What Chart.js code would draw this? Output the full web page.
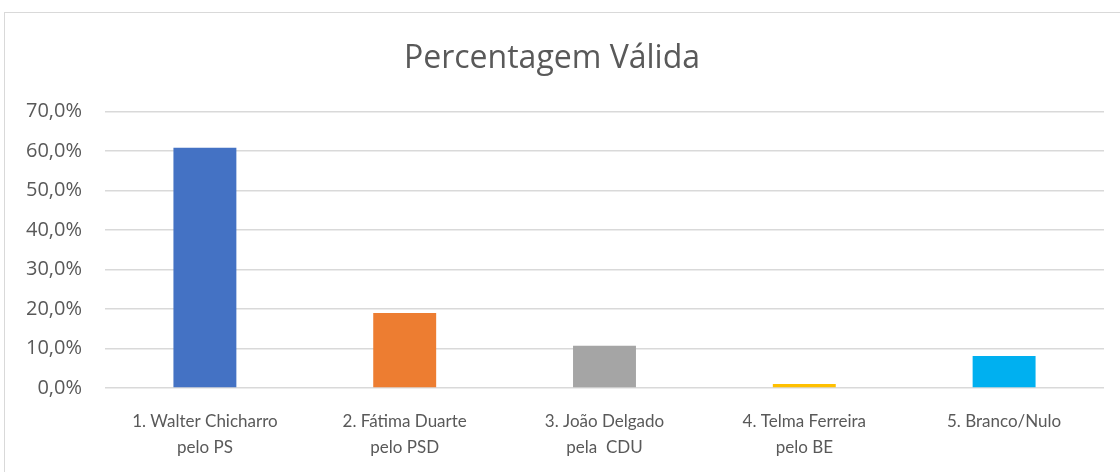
<!DOCTYPE html>
<html>
<head>
<meta charset="utf-8">
<script src="https://cdn.jsdelivr.net/npm/chart.js@4/dist/chart.umd.min.js"></script>
<style>
  html, body { margin: 0; padding: 0; background: #ffffff; overflow: hidden; }
  #frame { position: absolute; left: 4px; top: 12px; width: 1200px; height: 520px; border: 1.5px solid #d9d9d9; box-sizing: border-box; }
  #wrap { position: absolute; left: 0; top: 0; width: 1120px; height: 472px; }
</style>
</head>
<body>
<div id="frame"></div>
<div id="wrap"><canvas id="c" width="1120" height="472"></canvas></div>
<script>
const categories = [
  ["1. Walter Chicharro", "pelo PS"],
  ["2. Fátima Duarte", "pelo PSD"],
  ["3. João Delgado", "pela  CDU"],
  ["4. Telma Ferreira", "pelo BE"],
  ["5. Branco/Nulo"]
];
const values = [60.8, 19.0, 10.7, 1.0, 8.1];
const barColors = ["#4472C4", "#ED7D31", "#A5A5A5", "#FFC000", "#00B0F0"];
const yTicks = [0, 10, 20, 30, 40, 50, 60, 70];
const titleText = "Percentagem Válida";

new Chart(document.getElementById("c"), {
  type: "bar",
  data: {
    labels: categories,
    datasets: [{
      data: values,
      backgroundColor: barColors,
      borderWidth: 0,
      barPercentage: 1,
      categoryPercentage: 0.315
    }]
  },
  options: {
    responsive: false,
    animation: false,
    devicePixelRatio: 1,
    layout: { padding: { left: 0, right: 16, top: 0, bottom: 0 } },
    plugins: {
      legend: { display: false },
      tooltip: { enabled: false },
      title: {
        display: true,
        text: titleText,
        color: "#595959",
        font: { family: "'Open Sans', sans-serif", size: 32, weight: "normal" },
        padding: { top: 40, bottom: 33 }
      }
    },
    scales: {
      x: {
        grid: { display: false, drawTicks: false },
        border: { display: false },
        ticks: {
          color: "#595959",
          font: { family: "Lato, sans-serif", size: 17, lineHeight: 1.55 },
          padding: 20,
          maxRotation: 0,
          autoSkip: false
        },
        afterFit: (s) => { s.height = 84; }
      },
      y: {
        min: 0,
        max: 70,
        afterBuildTicks: (s) => { s.ticks = yTicks.map(v => ({ value: v })); },
        grid: { color: "#d9d9d9", lineWidth: 1.5, drawTicks: false },
        border: { display: false },
        ticks: {
          color: "#595959",
          font: { family: "'Open Sans', sans-serif", size: 20 },
          padding: 23,
          callback: (v) => v.toFixed(1).replace(".", ",") + "%"
        },
        afterFit: (s) => { s.width = 105; }
      }
    }
  }
});
</script>
</body>
</html>
